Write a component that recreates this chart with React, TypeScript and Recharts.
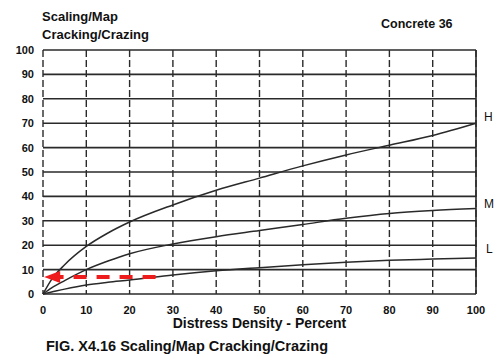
import { LineChart, Line, XAxis, YAxis, CartesianGrid, ReferenceLine, ReferenceDot } from 'recharts';

// distress density (percent) and deduct values
const density = [0, 2, 5, 10, 15, 20, 30, 40, 50, 60, 70, 80, 90, 100];
const high = [0, 6, 12, 19.5, 25, 29.5, 36.5, 42.5, 47.5, 52.5, 57, 61, 65, 70];
const medium = [0, 2.5, 5.5, 10, 13.5, 16.5, 20.5, 23.5, 26, 28.5, 31, 33, 34.2, 35];
const low = [0, 0.8, 2, 3.7, 4.8, 5.7, 7.8, 9.5, 10.8, 12, 13, 13.8, 14.3, 14.8];
const ticks = [0, 10, 20, 30, 40, 50, 60, 70, 80, 90, 100];

// example reading: density ~26% on the L curve -> deduct ~7
const arrowFrom = 26;
const arrowTo = 0.5;
const arrowValue = 7;

const data = density.map((d, i) => ({ d, H: high[i], M: medium[i], L: low[i] }));

const INK = '#2a2a2a';
const RED = '#ee1c1c';
const FONT = '"Liberation Sans", Arial, sans-serif';

const ArrowHead = (props: any) => {
  const { cx, cy } = props;
  return <path d={`M${cx - 1},${cy} L${cx + 15},${cy - 6} L${cx + 15},${cy + 6} Z`} fill={RED} />;
};

export default function App() {
  const tickStyle = { fill: '#111', fontSize: 11, fontWeight: 700, fontFamily: FONT };
  return (
    <div style={{ position: 'fixed', left: 0, top: 0, width: 498, height: 361, background: '#fff', fontFamily: FONT, color: '#111' }}>
      <div style={{ position: 'absolute', left: 42, top: 8, fontSize: 13, fontWeight: 700, lineHeight: '18px' }}>
        Scaling/Map<br />Cracking/Crazing
      </div>
      <div style={{ position: 'absolute', left: 381, top: 17, fontSize: 12.5, fontWeight: 700 }}>Concrete 36</div>
      <div style={{ position: 'absolute', left: 484, top: 110, fontSize: 12 }}>H</div>
      <div style={{ position: 'absolute', left: 484, top: 197, fontSize: 12 }}>M</div>
      <div style={{ position: 'absolute', left: 486, top: 242, fontSize: 12 }}>L</div>
      <div style={{ position: 'absolute', left: 46, top: 338, fontSize: 14.5, fontWeight: 700 }}>
        FIG. X4.16 Scaling/Map Cracking/Crazing
      </div>
      <LineChart width={498} height={361} data={data} margin={{ top: 50, right: 22, bottom: 38, left: 8 }}>
        <CartesianGrid vertical={false} stroke={INK} strokeWidth={1.6} />
        <CartesianGrid horizontal={false} stroke={INK} strokeWidth={1.4} strokeDasharray="7 3" />
        <XAxis
          dataKey="d"
          type="number"
          domain={[0, 100]}
          ticks={ticks}
          axisLine={false}
          tickLine={false}
          tickSize={0}
          tickMargin={12}
          height={29}
          tick={tickStyle}
          label={{ value: 'Distress Density - Percent', position: 'insideBottom', offset: -5, fill: '#111', fontSize: 14, fontWeight: 700, fontFamily: FONT }}
        />
        <YAxis
          type="number"
          domain={[0, 100]}
          ticks={ticks}
          axisLine={false}
          tickLine={false}
          tickSize={0}
          tickMargin={9}
          width={35}
          tick={tickStyle}
        />
        <ReferenceLine x={100} stroke={INK} strokeWidth={1.6} />
        <Line type="monotone" dataKey="H" stroke={INK} strokeWidth={1.5} dot={false} isAnimationActive={false} />
        <Line type="monotone" dataKey="M" stroke={INK} strokeWidth={1.5} dot={false} isAnimationActive={false} />
        <Line type="monotone" dataKey="L" stroke={INK} strokeWidth={1.5} dot={false} isAnimationActive={false} />
        <ReferenceLine
          segment={[{ x: arrowFrom, y: arrowValue }, { x: arrowTo + 3, y: arrowValue }]}
          stroke={RED}
          strokeWidth={4}
          strokeDasharray="13 10"
        />
        <ReferenceDot x={arrowTo} y={arrowValue} r={6} shape={ArrowHead} />
      </LineChart>
    </div>
  );
}
